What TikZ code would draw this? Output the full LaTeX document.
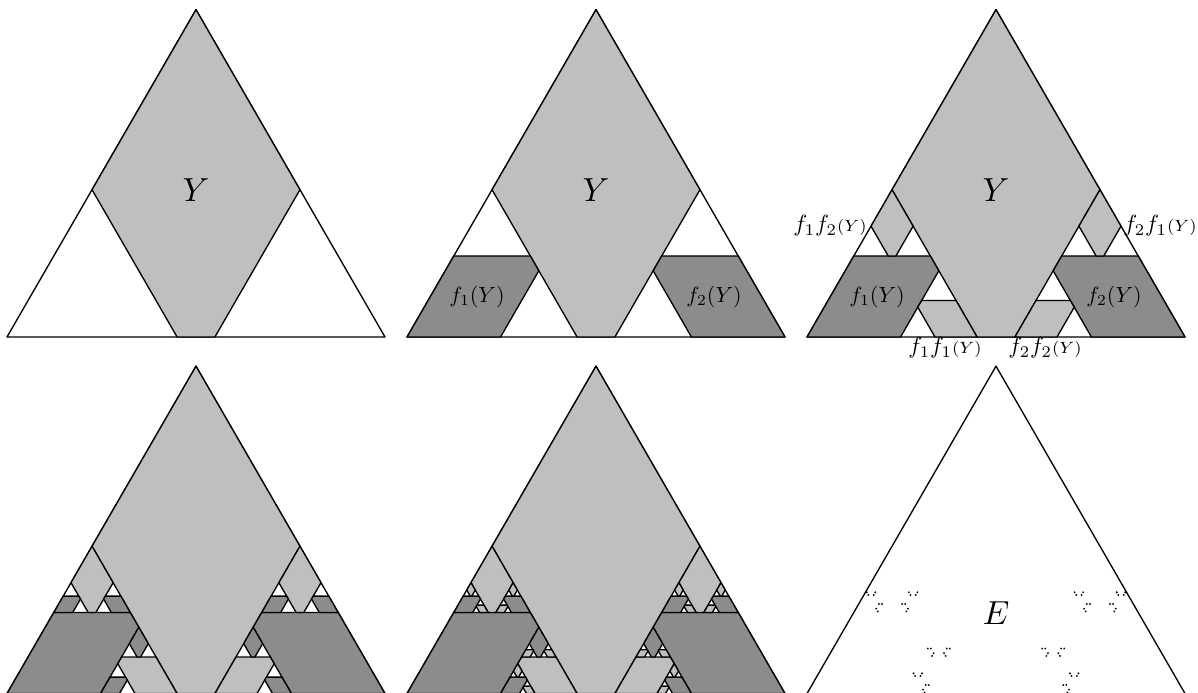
\documentclass[tikz,border=0pt]{standalone}
\definecolor{lightpiece}{gray}{0.75}
\definecolor{darkpiece}{gray}{0.55}
\tikzset{
  mapone/.style={cm={-0.225,0.38971,-0.38971,-0.225,(0.45,0)}},
  maptwo/.style={cm={-0.225,-0.38971,0.38971,-0.225,(0.775,0.38971)}},
  unit/.style={x=113.4pt,y=113.4pt},
  outline/.style={line width=0.4pt,line join=round},
  biglabel/.style={inner sep=0pt},
  midlabel/.style={inner sep=0pt,scale=0.66},
  smalllabel/.style={inner sep=0pt,scale=0.7}
}
% one piece Y of the triangle, then its images down to level #2
\newcommand{\drawY}[2]{%
  \ifodd#1\relax\def\ytone{darkpiece}\else\def\ytone{lightpiece}\fi
  \filldraw[outline,fill=\ytone] (0.5,0.866) -- (0.225,0.38971) -- (0.45,0) -- (0.55,0) -- (0.775,0.38971) -- cycle;
  \ifnum#1<#2\relax
    \begin{scope}[mapone]\drawY{\the\numexpr#1+1\relax}{#2}\end{scope}
    \begin{scope}[maptwo]\drawY{\the\numexpr#1+1\relax}{#2}\end{scope}
  \fi}
% small dots at level #2
\newcommand{\drawdust}[2]{%
  \ifnum#1<#2\relax
    \begin{scope}[mapone]\drawdust{\the\numexpr#1+1\relax}{#2}\end{scope}
    \begin{scope}[maptwo]\drawdust{\the\numexpr#1+1\relax}{#2}\end{scope}
  \else
    \fill (0.5,0.159) circle (0.33);
  \fi}
\newcommand{\drawT}{\draw[outline] (0,0) -- (1,0) -- (0.5,0.866) -- cycle;}
\newcommand{\drawsides}{\draw[outline] (0,0) -- (0.5,0.866) -- (1,0);}
\begin{document}
\begin{tikzpicture}[x=0.3pt,y=0.3pt]
\clip (0,0) rectangle (1198,692);
\begin{scope}[shift={(7,355)},unit]
\drawT \drawY{0}{0}
\end{scope}
\begin{scope}[shift={(407,355)},unit]
\drawT \drawY{0}{1}
\end{scope}
\begin{scope}[shift={(807,355)},unit]
\drawT \drawY{0}{2}
\end{scope}
\begin{scope}[shift={(7,-1.5)},unit]
\drawsides \drawY{0}{3}
\end{scope}
\begin{scope}[shift={(407,-1.5)},unit]
\drawsides \drawY{0}{4}
\end{scope}
\begin{scope}[shift={(807,-1.5)},unit]
\drawsides \drawdust{0}{6}
\end{scope}
\node[biglabel] (y1) at (196,502) {$Y$};
\node[biglabel] (y2) at (596,502) {$Y$};
\node[biglabel] (y3) at (996,502) {$Y$};
\node[biglabel] (e) at (996,79) {$E$};
\node[midlabel] (a1) at (477,395) {$f_1(Y)$};
\node[midlabel] (a2) at (714,395) {$f_2(Y)$};
\node[midlabel] (b1) at (877,395) {$f_1(Y)$};
\node[midlabel] (b2) at (1114,395) {$f_2(Y)$};
\node[smalllabel] (c1) at (830,466) {$f_1f_2\scriptstyle(Y)$};
\node[smalllabel] (c2) at (1160,466) {$f_2f_1\scriptstyle(Y)$};
\node[smalllabel] (c3) at (945,344) {$f_1f_1\scriptstyle(Y)$};
\node[smalllabel] (c4) at (1045,344) {$f_2f_2\scriptstyle(Y)$};
\end{tikzpicture}
\end{document}
